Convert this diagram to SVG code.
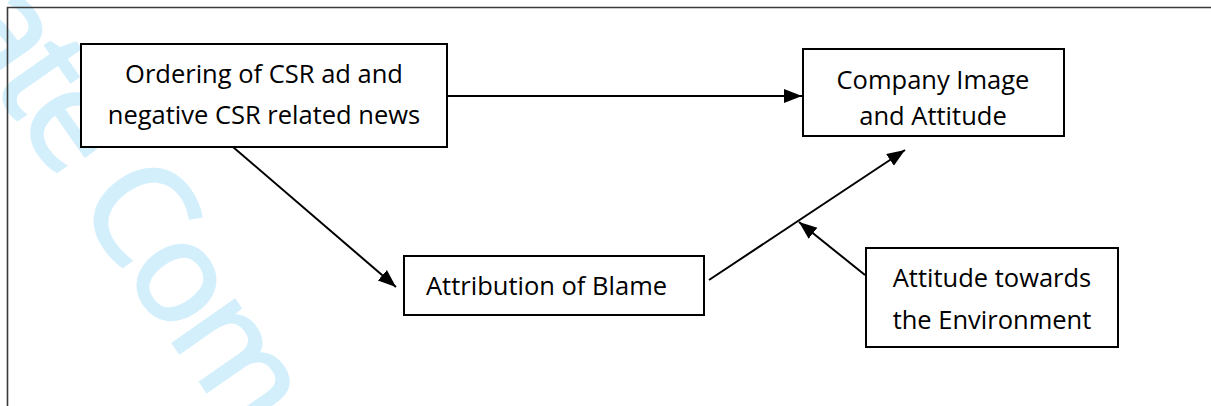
<svg xmlns="http://www.w3.org/2000/svg" width="1211" height="406" viewBox="0 0 1211 406">
  <style>
    .box { fill: #ffffff; stroke: #000000; stroke-width: 2; }
    .lbl { font-family: "Open Sans", "Liberation Sans", sans-serif; font-size: 25.5px; fill: #000000; }
    .mid { text-anchor: middle; }
    .conn { stroke: #000000; stroke-width: 2; fill: none; marker-end: url(#arrow); }
    .wm { font-family: "Open Sans", "Liberation Sans", sans-serif; font-size: 140px; letter-spacing: -6px; fill: #d3effc; stroke: #d3effc; stroke-width: 3; }
  </style>
  <defs>
    <marker id="arrow" markerUnits="userSpaceOnUse" markerWidth="19" markerHeight="15" refX="18" refY="7" orient="auto">
      <path d="M0,0 L18,7 L0,14 Z" fill="#000000"/>
    </marker>
  </defs>
  <rect x="0" y="0" width="1211" height="406" fill="#ffffff"/>
  <g id="watermark">
    <text class="wm" transform="translate(-51,23) rotate(55)">ate Com</text>
  </g>
  <path d="M7.5,406 V7.5 H1211" fill="none" stroke="#3a3a3a" stroke-width="1.6"/>
  <g id="connectors">
    <line class="conn" x1="447" y1="96" x2="802" y2="96"/>
    <line class="conn" x1="233" y1="147" x2="396" y2="287"/>
    <line class="conn" x1="709" y1="280" x2="905" y2="150"/>
    <line class="conn" x1="865" y1="275" x2="799" y2="222"/>
  </g>
  <g id="node-ordering">
    <rect class="box" x="81" y="44" width="366" height="103"/>
    <text class="lbl mid" x="264" y="83">Ordering of CSR ad and</text>
    <text class="lbl mid" x="264" y="124">negative CSR related news</text>
  </g>
  <g id="node-company">
    <rect class="box" x="803" y="49" width="261" height="87"/>
    <text class="lbl mid" x="933" y="89">Company Image</text>
    <text class="lbl mid" x="933" y="125">and Attitude</text>
  </g>
  <g id="node-blame">
    <rect class="box" x="404" y="256" width="300" height="59"/>
    <text class="lbl" x="426" y="295">Attribution of Blame</text>
  </g>
  <g id="node-environment">
    <rect class="box" x="866" y="248" width="252" height="99"/>
    <text class="lbl mid" x="992" y="287">Attitude towards</text>
    <text class="lbl mid" x="992" y="329">the Environment</text>
  </g>
</svg>
